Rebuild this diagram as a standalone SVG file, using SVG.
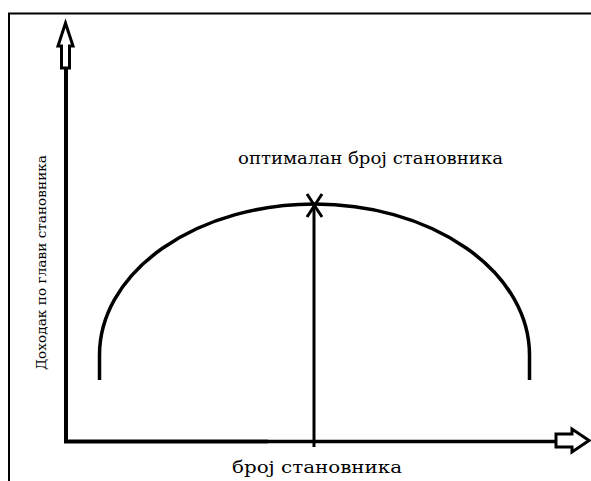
<svg xmlns="http://www.w3.org/2000/svg" width="591" height="481" viewBox="0 0 591 481">
<style>
.ln{stroke:#000;fill:none;stroke-linecap:butt}
.hollow{fill:#fff;stroke:#000;stroke-width:3;stroke-linejoin:miter}
.t{font-family:"DejaVu Serif","Liberation Serif",serif;fill:#000}
</style>
<rect width="591" height="481" fill="#fff"/>
<g id="frame">
<path class="ln" d="M9,481 V13.5 H591" stroke-width="2"/>
</g>
<g id="connectors">
<path class="ln" d="M66,68 V441.5 H268" stroke-width="4"/>
<path class="ln" d="M268,441.5 H556" stroke-width="3.5"/>
<path class="ln" d="M314,204 V447" stroke-width="3"/>
</g>
<g id="y-arrow">
<path class="hollow" d="M61.5,68 V46 H58 L65.5,23 L73,46 H69.5 V68 Z"/>
</g>
<g id="x-arrow">
<path class="hollow" d="M556,434 H572 V429 L589,440.5 L572,452 V447 H556 Z"/>
</g>
<g id="curve">
<path class="ln" d="M99.5,380 V355 A215,151 0 0 1 529.5,355 V380" stroke-width="3.5"/>
</g>
<g id="optimum">
<path class="ln" d="M307,194 L322,217 M322,194 L307,217" stroke-width="3"/>
</g>
<g id="labels">
<text class="t" x="238" y="164" font-size="16" textLength="265" lengthAdjust="spacingAndGlyphs">оптималан број становника</text>
<text class="t" x="232" y="473" font-size="16" textLength="170" lengthAdjust="spacingAndGlyphs">број становника</text>
<text class="t" font-size="13" textLength="215" lengthAdjust="spacingAndGlyphs" transform="translate(46,370) rotate(-90)">Доходак по глави становника</text>
</g>
</svg>
